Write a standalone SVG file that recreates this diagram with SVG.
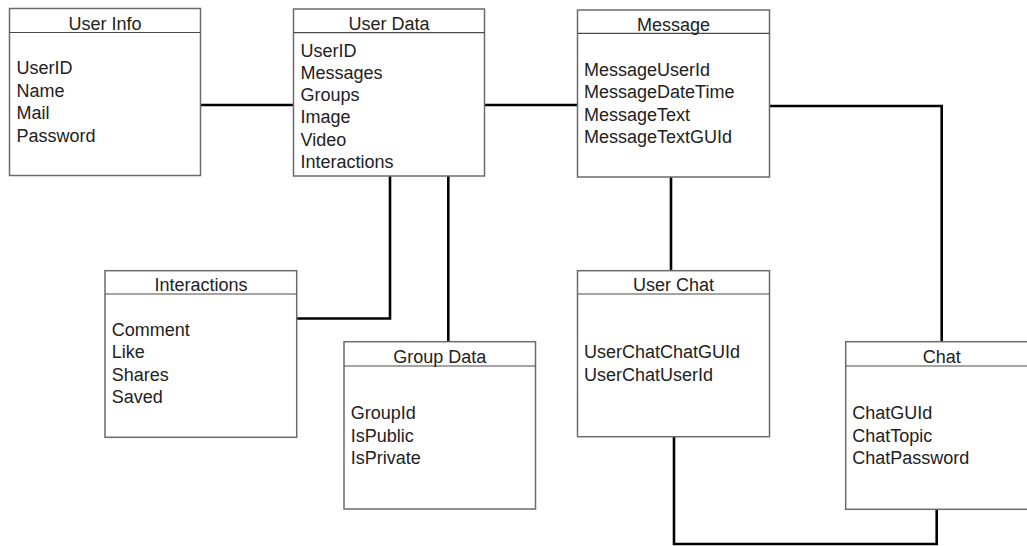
<svg xmlns="http://www.w3.org/2000/svg" width="1027" height="546" viewBox="0 0 1027 546">
<style>
.box{fill:#fff;stroke:#6b6b6b;stroke-width:1.5}
.hd{stroke:#4a4a4a;stroke-width:1.2}
.t{font-family:"Liberation Sans",Arial,sans-serif;font-size:18px;fill:#222}
.c{text-anchor:middle}
.con{fill:none;stroke:#000;stroke-width:2.6}
</style>
<rect width="1027" height="546" fill="#fff"/>
<g id="connectors">
<path class="con" d="M201,105 H293"/>
<path class="con" d="M485,105 H577"/>
<path class="con" d="M297,318.5 H390 V176"/>
<path class="con" d="M448.3,176 V342"/>
<path class="con" d="M671,177 V271"/>
<path class="con" d="M769,106 H941.7 V342"/>
<path class="con" d="M674,437 V544 H936.7 V509"/>
</g>
<g id="user-info">
<rect class="box" x="9.5" y="8.5" width="191" height="167"/>
<line class="hd" x1="9.5" y1="32.5" x2="200.5" y2="32.5"/>
<text class="t c" x="105" y="30">User Info</text>
<text class="t" x="16.5" y="74">UserID</text>
<text class="t" x="16.5" y="96.5">Name</text>
<text class="t" x="16.5" y="119">Mail</text>
<text class="t" x="16.5" y="141.5">Password</text>
</g>
<g id="user-data">
<rect class="box" x="293.5" y="9" width="191" height="167"/>
<line class="hd" x1="293.5" y1="32.7" x2="484.5" y2="32.7"/>
<text class="t c" x="389" y="29.5">User Data</text>
<text class="t" x="300.5" y="56.5">UserID</text>
<text class="t" x="300.5" y="78.8">Messages</text>
<text class="t" x="300.5" y="101">Groups</text>
<text class="t" x="300.5" y="123.3">Image</text>
<text class="t" x="300.5" y="145.5">Video</text>
<text class="t" x="300.5" y="167.7">Interactions</text>
</g>
<g id="message">
<rect class="box" x="577.5" y="10" width="192" height="167"/>
<line class="hd" x1="577.5" y1="33.3" x2="769.5" y2="33.3"/>
<text class="t c" x="673.5" y="30.5">Message</text>
<text class="t" x="584" y="76">MessageUserId</text>
<text class="t" x="584" y="98.3">MessageDateTime</text>
<text class="t" x="584" y="120.6">MessageText</text>
<text class="t" x="584" y="142.8">MessageTextGUId</text>
</g>
<g id="interactions">
<rect class="box" x="105" y="270.7" width="191.7" height="166.6"/>
<line class="hd" x1="105" y1="294" x2="296.7" y2="294"/>
<text class="t c" x="201" y="290.7">Interactions</text>
<text class="t" x="111.7" y="336">Comment</text>
<text class="t" x="111.7" y="358.3">Like</text>
<text class="t" x="111.7" y="380.5">Shares</text>
<text class="t" x="111.7" y="402.7">Saved</text>
</g>
<g id="group-data">
<rect class="box" x="344" y="341.7" width="191.5" height="167.3"/>
<line class="hd" x1="344" y1="366" x2="535.5" y2="366"/>
<text class="t c" x="439.7" y="362.7">Group Data</text>
<text class="t" x="350.7" y="419.3">GroupId</text>
<text class="t" x="350.7" y="441.6">IsPublic</text>
<text class="t" x="350.7" y="463.9">IsPrivate</text>
</g>
<g id="user-chat">
<rect class="box" x="577.5" y="270.7" width="192" height="166"/>
<line class="hd" x1="577.5" y1="294" x2="769.5" y2="294"/>
<text class="t c" x="673.5" y="290.8">User Chat</text>
<text class="t" x="584" y="358.3">UserChatChatGUId</text>
<text class="t" x="584" y="380.6">UserChatUserId</text>
</g>
<g id="chat">
<rect class="box" x="845.7" y="341.7" width="192" height="167.6"/>
<line class="hd" x1="845.7" y1="366" x2="1037.7" y2="366"/>
<text class="t c" x="941.7" y="362.7">Chat</text>
<text class="t" x="852.3" y="419.3">ChatGUId</text>
<text class="t" x="852.3" y="441.6">ChatTopic</text>
<text class="t" x="852.3" y="463.5">ChatPassword</text>
</g>
</svg>
